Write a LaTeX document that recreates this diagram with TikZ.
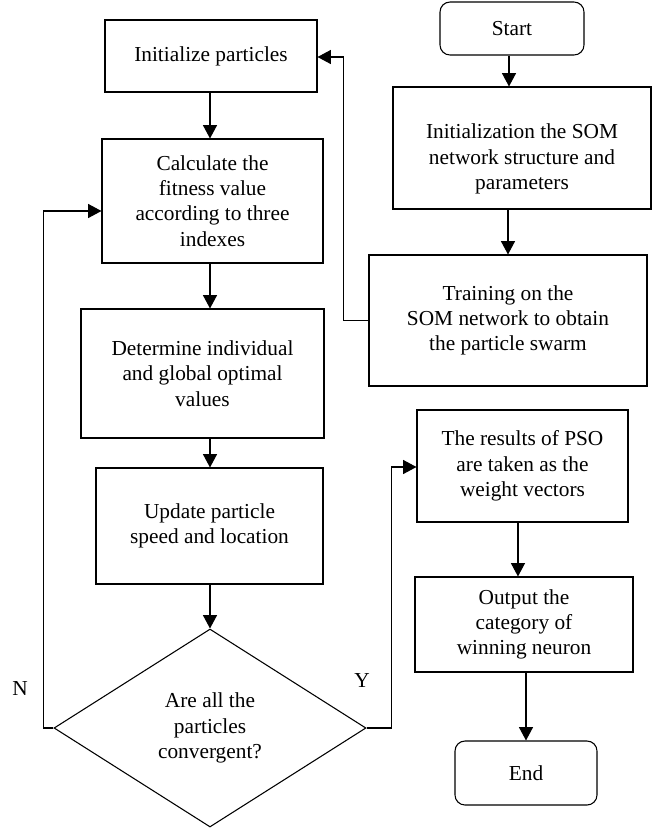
\documentclass[tikz,border=0pt]{standalone}
\usepackage{fontspec}
\setmainfont{Liberation Serif}
\usetikzlibrary{shapes.geometric,arrows.meta}
\begin{document}
\begin{tikzpicture}[x=0.75pt,y=-0.75pt,
  every node/.style={font=\fontsize{16}{19}\selectfont},
  box/.style={draw,line width=0.8pt,align=center,inner sep=0pt},
  term/.style={box,rounded corners=7.5pt},
  decis/.style={draw,line width=0.8pt,shape=diamond,align=center,inner sep=0pt},
  arr/.style={line width=0.8pt,-{Triangle[length=10pt,width=10.5pt]}},
  lbl/.style={inner sep=0pt},
  txt/.style={align=center,inner sep=0pt}]
\useasboundingbox (0,0) rectangle (660,829);
% left column
\node[box,minimum width=159pt,minimum height=54pt] (init) at (211,56) {Initialize particles};
\node[box,minimum width=165.75pt,minimum height=93pt] (calc) at (212.5,201) {Calculate the\\fitness value\\according to three\\indexes};
\node[box,minimum width=182.25pt,minimum height=96.75pt] (det) at (202.5,373.5) {Determine individual\\and global optimal\\values};
\node[box,minimum width=170.25pt,minimum height=87pt] (upd) at (209.5,526) {Update particle\\speed and location};
\node[decis,minimum width=234pt,minimum height=148.5pt] (dia) at (210,728) {Are all the\\particles\\convergent?};
% right column
\node[term,minimum width=108pt,minimum height=39.75pt] (start) at (512,28.5) {Start};
\node[box,minimum width=193.5pt,minimum height=91.5pt] (som) at (522,148) {};
\node[txt] (somtxt) at (522,159) {Initialization the SOM\\network structure and\\parameters};
\node[box,minimum width=208.5pt,minimum height=98.25pt] (train) at (508,320.5) {Training on the\\SOM network to obtain\\the particle swarm};
\node[box,minimum width=158.25pt,minimum height=84pt] (pso) at (522.5,466) {The results of PSO\\are taken as the\\weight vectors};
\node[box,minimum width=163.5pt,minimum height=71.25pt] (out) at (524,624.5) {Output the\\category of\\winning neuron};
\node[term,minimum width=106.5pt,minimum height=48pt] (end) at (526,773) {End};
% labels
\node[lbl] (nlab) at (20,689) {N};
\node[lbl] (ylab) at (362,681) {Y};
% connectors left column
\draw[arr] (dia.north |- init.south) -- (dia.north |- calc.north);
\draw[arr] (dia.north |- calc.south) -- (dia.north |- det.north);
\draw[arr] (dia.north |- det.south) -- (dia.north |- upd.north);
\draw[arr] (dia.north |- upd.south) -- (dia.north);
% connectors right column
\draw[arr] ([xshift=-2.25pt]start.south) -- ([xshift=-2.25pt]start.south |- som.north);
\draw[arr] (train.north |- som.south) -- (train.north);
\draw[arr] ([xshift=-3.4pt]pso.south) -- ([xshift=-3.4pt]pso.south |- out.north);
\draw[arr] (end.north |- out.south) -- (end.north);
% feedback / branches
\draw[arr] (train.west) -- ++(-25,0) |- ([yshift=-0.75pt]init.east);
\draw[arr] (dia.west) -- ++(-10,0) |- ([yshift=-7.5pt]calc.west);
\draw[arr] (dia.east) -- ++(25,0) |- ([yshift=-0.75pt]pso.west);
\end{tikzpicture}
\end{document}
